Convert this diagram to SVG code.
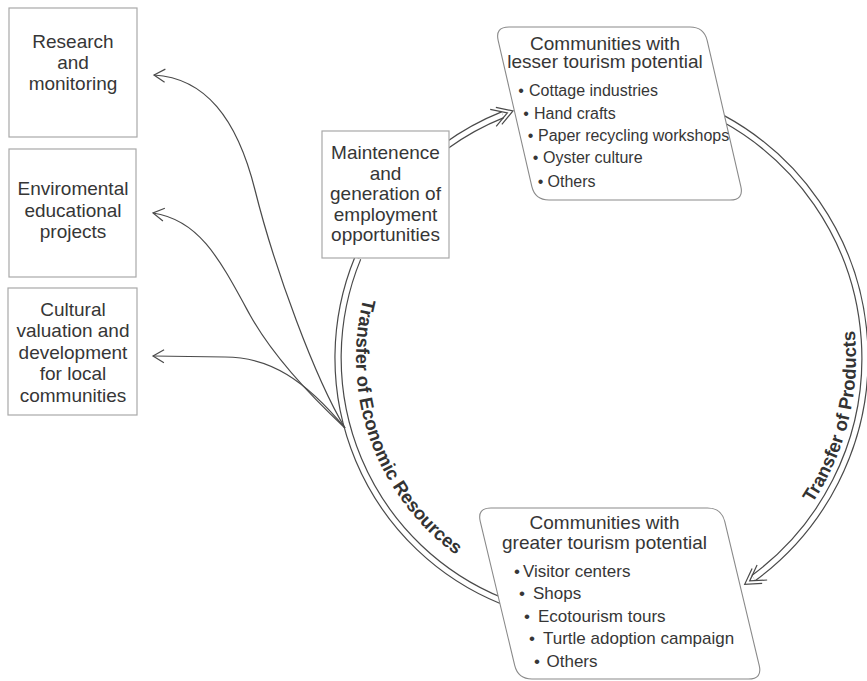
<svg xmlns="http://www.w3.org/2000/svg" xmlns:xlink="http://www.w3.org/1999/xlink" width="867" height="681" viewBox="0 0 867 681">
<defs>
<style>
.box{fill:#fff;stroke:#a8a8a8;stroke-width:1.2}
.pbox{fill:#fff;stroke:#8a8a8a;stroke-width:1.1}
.t{font-family:"Liberation Sans",Arial,sans-serif;fill:#363636;font-size:19px;text-anchor:middle}
.b16{font-family:"Liberation Sans",Arial,sans-serif;fill:#363636;font-size:16px}
.b17{font-family:"Liberation Sans",Arial,sans-serif;fill:#363636;font-size:17px}
.dot{text-anchor:middle}
.lbl{font-family:"Liberation Sans",Arial,sans-serif;fill:#333;font-weight:bold;text-anchor:middle}
.dbo{fill:none;stroke:#4a4a4a;stroke-width:7.4}
.dbi{fill:none;stroke:#fff;stroke-width:5}
.thin{fill:none;stroke:#4a4a4a;stroke-width:1.2}
.hd{fill:none;stroke:#4a4a4a;stroke-width:1.2}
</style>
<marker id="ah" viewBox="-13 -9 15 18" refX="0" refY="0" markerWidth="15" markerHeight="18" markerUnits="userSpaceOnUse" orient="auto">
<path d="M-11,-6.5 L0,0 L-11,6.5" fill="none" stroke="#4a4a4a" stroke-width="1.2"/>
</marker>
<g id="dh">
<path class="hd" d="M-15,-9 L0,0 L-15,9"/>
<path class="hd" d="M-21,-9 L-6,0 L-21,9"/>
</g>
<path id="tpEco" d="M370.9,274.1 A244,244 0 0,0 477.6,569.1"/>
<path id="tpProd" d="M766.2,556.3 A264,264 0 0,0 838.0,262.1"/>
</defs>

<g id="connectors">
<path class="dbo" d="M357.8,258.2 A262,262 0 0,0 501.9,600.9"/>
<path class="dbi" d="M357.8,258.2 A262,262 0 0,0 501.9,600.9"/>
<path class="dbo" d="M446,146 A262,262 0 0,1 502.7,114.7"/>
<path class="dbi" d="M446,146 A262,262 0 0,1 502.7,114.7"/>
<use xlink:href="#dh" href="#dh" transform="translate(513,110.9) rotate(-19.4)"/>
<path class="dbo" d="M722.3,118.1 A273,273 0 0,1 753.6,578"/>
<path class="dbi" d="M722.3,118.1 A273,273 0 0,1 753.6,578"/>
<use xlink:href="#dh" href="#dh" transform="translate(744.7,584.3) rotate(146)"/>
<path class="thin" marker-end="url(#ah)" d="M345,428 C315,378 275,270 255,190 C237,118 205,78 154,75"/>
<path class="thin" marker-end="url(#ah)" d="M345,428 C315,400 275,360 250,315 C220,260 200,220 153,213"/>
<path class="thin" marker-end="url(#ah)" d="M345,428 C305,380 270,357 225,357 L153,356"/>
<text class="lbl" font-size="18.5"><textPath xlink:href="#tpEco" href="#tpEco" startOffset="50%">Transfer of Economic Resources</textPath></text>
<text class="lbl" font-size="18.5"><textPath xlink:href="#tpProd" href="#tpProd" startOffset="50%">Transfer of Products</textPath></text>
</g>

<g id="research">
<rect class="box" x="9" y="8" width="128" height="129"/>
<text class="t" x="73" y="47.5">Research</text>
<text class="t" x="73" y="68.5">and</text>
<text class="t" x="73" y="89.5">monitoring</text>
</g>

<g id="environmental">
<rect class="box" x="9" y="149" width="127" height="128"/>
<text class="t" x="73" y="195">Enviromental</text>
<text class="t" x="73" y="216.5">educational</text>
<text class="t" x="73" y="237.5">projects</text>
</g>

<g id="cultural">
<rect class="box" x="8" y="288" width="129" height="127"/>
<text class="t" x="73" y="315.5">Cultural</text>
<text class="t" x="73" y="337">valuation and</text>
<text class="t" x="73" y="358.5">development</text>
<text class="t" x="73" y="380">for local</text>
<text class="t" x="73" y="401.5">communities</text>
</g>

<g id="maintenence">
<rect class="box" x="322" y="131" width="127" height="127"/>
<text class="t" x="385.5" y="158.5">Maintenence</text>
<text class="t" x="385.5" y="179.5">and</text>
<text class="t" x="385.5" y="200">generation of</text>
<text class="t" x="385.5" y="220.5">employment</text>
<text class="t" x="385.5" y="241">opportunities</text>
</g>

<g id="lesser">
<path class="pbox" d="M509,27 L690,27 Q704,27 707.2,40.6 L740.8,186.4 Q744,200 730,200 L549,200 Q535,200 531.8,186.4 L498.2,40.6 Q495,27 509,27 Z"/>
<text class="t" x="605" y="49.5">Communities with</text>
<text class="t" x="605" y="67.5">lesser tourism potential</text>
<text class="b16 dot" x="521" y="95.5">•</text>
<text class="b16" x="529" y="95.5">Cottage industries</text>
<text class="b16 dot" x="526" y="119">•</text>
<text class="b16" x="534" y="119">Hand crafts</text>
<text class="b16 dot" x="530.5" y="140.5" font-size="15">•</text>
<text class="b16" x="538" y="140.5" font-size="14.7">Paper recycling workshops</text>
<text class="b16 dot" x="535.5" y="163">•</text>
<text class="b16" x="543" y="163">Oyster culture</text>
<text class="b16 dot" x="540.5" y="186.5">•</text>
<text class="b16" x="547.5" y="186.5">Others</text>
</g>

<g id="greater">
<path class="pbox" d="M491,508 L707.5,508 Q721.5,508 724.8,521.6 L759.2,665.4 Q762.5,679 748.5,679 L532,679 Q518,679 514.7,665.4 L480.3,521.6 Q477,508 491,508 Z"/>
<text class="t" x="604.5" y="529">Communities with</text>
<text class="t" x="604.5" y="549">greater tourism potential</text>
<text class="b17 dot" x="517" y="577">•</text>
<text class="b17" x="523" y="577">Visitor centers</text>
<text class="b17 dot" x="522" y="599">•</text>
<text class="b17" x="533" y="599">Shops</text>
<text class="b17 dot" x="527" y="621.5">•</text>
<text class="b17" x="538" y="621.5">Ecotourism tours</text>
<text class="b17 dot" x="532" y="643.5">•</text>
<text class="b17" x="543" y="643.5">Turtle adoption campaign</text>
<text class="b17 dot" x="537" y="666.5">•</text>
<text class="b17" x="546.5" y="666.5">Others</text>
</g>
</svg>
